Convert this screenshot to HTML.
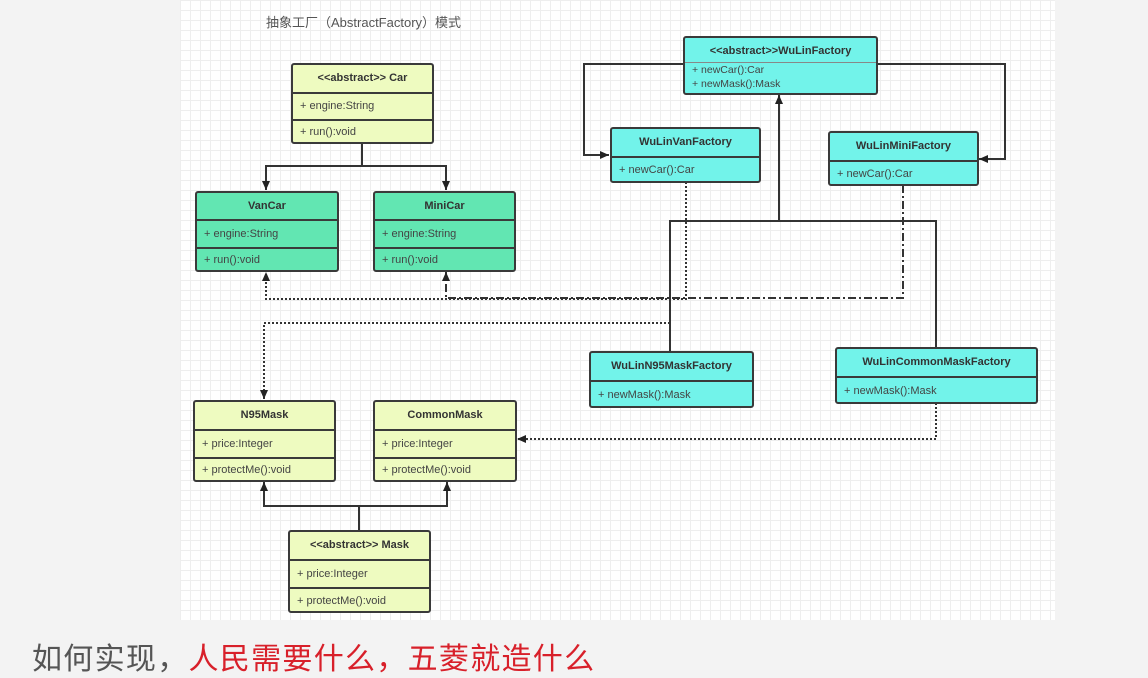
<!DOCTYPE html>
<html><head><meta charset="utf-8"><style>
body{margin:0;width:1148px;height:678px;background:#f3f3f3;position:relative;overflow:hidden;font-family:"Liberation Sans","Noto Sans CJK SC",sans-serif}
.canvas{position:absolute;left:180px;top:0;width:875px;height:620px;background-color:#fff;
background-image:linear-gradient(#eee 1px,transparent 1px),linear-gradient(90deg,#eee 1px,transparent 1px);background-size:10px 10px}
.b{position:absolute;border:2px solid #3a3a3a;border-radius:3px;box-sizing:border-box;font-size:11px;color:#444}
.b div{border-top:2px solid #3a3a3a;padding-left:7px;box-sizing:border-box}
.b .h{border-top:none;text-align:center;font-weight:bold;color:#333;padding:0}
.y{background:#eefbc0}.g{background:#62e6b2}.c{background:#72f3ea}
svg{position:absolute;left:0;top:0}
</style></head><body>
<div class="canvas"></div>
<div style="position:absolute;left:266px;top:12px;font-size:13px;color:#555">抽象工厂（AbstractFactory）模式</div>
<svg width="1148" height="678">
<defs><marker id="a" markerWidth="10" markerHeight="10" refX="9" refY="5" orient="auto" markerUnits="userSpaceOnUse"><path d="M0,1 L9,5 L0,9 z" fill="#222"/></marker></defs>
<g fill="none" stroke="#333" stroke-width="2">
<path d="M362,143 V166 H266 V190" marker-end="url(#a)"/><path d="M362,166 H446 V190" marker-end="url(#a)"/>
<path d="M683,64 H584 V155 H609" marker-end="url(#a)"/><path d="M877,64 H1005 V159 H979" marker-end="url(#a)"/>
<path d="M670,351 V221 H936 V347"/><path d="M779,221 V95" marker-end="url(#a)"/>
<path d="M359,530 V506 H264 V482" marker-end="url(#a)"/><path d="M359,506 H447 V482" marker-end="url(#a)"/>
<g stroke-dasharray="2,2"><path d="M686,182 V299 H266 V272" marker-end="url(#a)"/><path d="M670,323 H264 V399" marker-end="url(#a)"/><path d="M936,403 V439 H517" marker-end="url(#a)"/></g>
<path d="M903,185 V298 H446 V272" stroke-dasharray="8,3,2,3" marker-end="url(#a)"/>
</g></svg>
<div class="b y" style="left:291px;top:63px;width:143px;height:81px"><div class="h" style="height:27px;line-height:27px">&lt;&lt;abstract&gt;&gt; Car</div><div style="height:27px;line-height:25px">+ engine:String</div><div style="line-height:23px">+ run():void</div></div>
<div class="b g" style="left:195px;top:191px;width:144px;height:81px"><div class="h" style="height:26px;line-height:26px">VanCar</div><div style="height:28px;line-height:26px">+ engine:String</div><div style="line-height:23px">+ run():void</div></div>
<div class="b g" style="left:373px;top:191px;width:143px;height:81px"><div class="h" style="height:26px;line-height:26px">MiniCar</div><div style="height:28px;line-height:26px">+ engine:String</div><div style="line-height:23px">+ run():void</div></div>
<div class="b y" style="left:193px;top:400px;width:143px;height:82px"><div class="h" style="height:27px;line-height:27px">N95Mask</div><div style="height:28px;line-height:26px">+ price:Integer</div><div style="line-height:23px">+ protectMe():void</div></div>
<div class="b y" style="left:373px;top:400px;width:144px;height:82px"><div class="h" style="height:27px;line-height:27px">CommonMask</div><div style="height:28px;line-height:26px">+ price:Integer</div><div style="line-height:23px">+ protectMe():void</div></div>
<div class="b y" style="left:288px;top:530px;width:143px;height:83px"><div class="h" style="height:27px;line-height:27px">&lt;&lt;abstract&gt;&gt; Mask</div><div style="height:28px;line-height:26px">+ price:Integer</div><div style="line-height:24px">+ protectMe():void</div></div>
<div class="b c" style="left:683px;top:36px;width:195px;height:59px"><div class="h" style="height:24px;line-height:26px">&lt;&lt;abstract&gt;&gt;WuLinFactory</div><div style="border-top:1px solid #888;line-height:14px;font-size:10.5px">+ newCar():Car<br>+ newMask():Mask</div></div>
<div class="b c" style="left:610px;top:127px;width:151px;height:56px"><div class="h" style="height:27px;line-height:27px">WuLinVanFactory</div><div style="line-height:25px">+ newCar():Car</div></div>
<div class="b c" style="left:828px;top:131px;width:151px;height:55px"><div class="h" style="height:27px;line-height:27px">WuLinMiniFactory</div><div style="line-height:25px">+ newCar():Car</div></div>
<div class="b c" style="left:589px;top:351px;width:165px;height:57px"><div class="h" style="height:27px;line-height:27px">WuLinN95MaskFactory</div><div style="line-height:26px">+ newMask():Mask</div></div>
<div class="b c" style="left:835px;top:347px;width:203px;height:57px"><div class="h" style="height:27px;line-height:27px">WuLinCommonMaskFactory</div><div style="line-height:26px">+ newMask():Mask</div></div>
<div style="position:absolute;left:32px;top:635px;font-size:30px;line-height:42px;color:#555;font-family:'Noto Sans CJK SC',sans-serif;letter-spacing:1.3px;white-space:nowrap">如何实现，<span style="color:#d8202a">人民需要什么，五菱就造什么</span></div>
</body></html>
